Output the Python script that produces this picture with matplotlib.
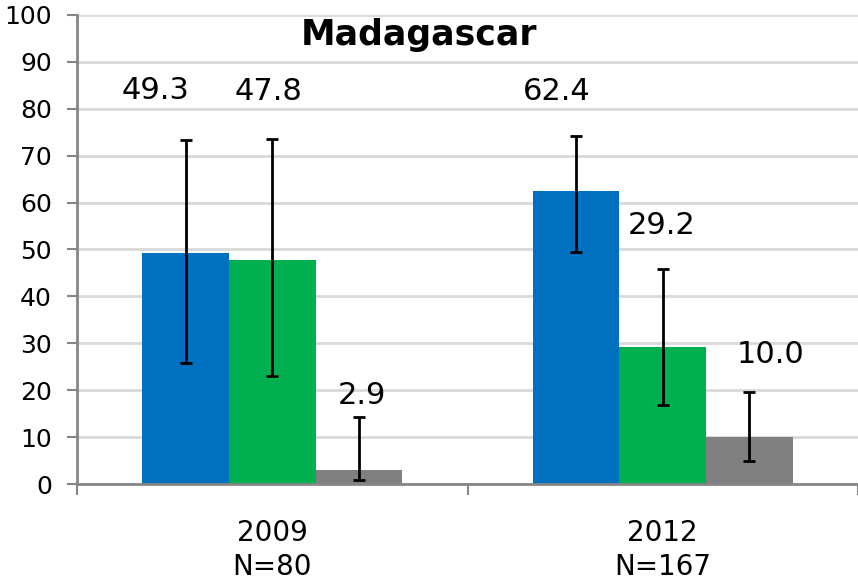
import matplotlib
matplotlib.use("Agg")
import matplotlib.pyplot as plt
import numpy as np

# data
groups = ["2009\nN=80", "2012\nN=167"]
blue_vals = [49.3, 62.4]
green_vals = [47.8, 29.2]
gray_vals = [2.9, 10.0]
blue_lo = [25.7, 49.4]
blue_hi = [73.4, 74.1]
green_lo = [23.1, 16.9]
green_hi = [73.6, 45.8]
gray_lo = [0.8, 4.9]
gray_hi = [14.2, 19.7]

plt.rcParams["font.family"] = "DejaVu Sans"

fig = plt.figure(figsize=(8.58, 5.85), dpi=100)
ax = fig.add_axes([77 / 858, 1 - 484 / 585, 1 - 77 / 858, (484 - 15) / 585])

x = np.arange(len(groups))
w = 0.222
series = [
    (blue_vals, blue_lo, blue_hi, "#0070C0"),
    (green_vals, green_lo, green_hi, "#00B050"),
    (gray_vals, gray_lo, gray_hi, "#808080"),
]
# label offsets (points) from the top of each error bar, as placed in the original
offsets = [
    [(-22, 29), (-14, 26)],
    [(-3, 28), (-1, 25)],
    [(2, 10), (15, 20.5)],
]

for i, (vals, lo, hi, col) in enumerate(series):
    xs = x + (i - 1) * w
    vals = np.array(vals)
    err = [vals - np.array(lo), np.array(hi) - vals]
    ax.bar(xs, vals, width=w, color=col, zorder=2)
    ax.errorbar(xs, vals, yerr=err, fmt="none", ecolor="black", elinewidth=2,
                capsize=4.5, capthick=2, zorder=3)
    for j, v in enumerate(vals):
        ax.annotate(f"{v:.1f}", (xs[j], hi[j]), xytext=offsets[i][j],
                    textcoords="offset points", ha="center", va="baseline",
                    fontsize=22)

ax.set_ylim(0, 100)
ax.set_xlim(-0.5, 1.5)
ax.set_yticks(np.arange(0, 101, 10))
ax.yaxis.grid(True, color="#D9D9D9", linewidth=2, zorder=0)
ax.set_axisbelow(True)
ax.tick_params(axis="y", labelsize=18, length=7, width=1.5, color="#868686", pad=11)

ax.set_xticks(x)
ax.set_xticklabels(groups, fontsize=20, linespacing=1.3)
ax.set_xticks([-0.5, 0.5, 1.5], minor=True)
ax.tick_params(axis="x", which="major", length=0, pad=25)
ax.tick_params(axis="x", which="minor", length=8, width=1.5, color="#868686")

for s in ["top", "right"]:
    ax.spines[s].set_visible(False)
for s in ["left", "bottom"]:
    ax.spines[s].set_color("#868686")
    ax.spines[s].set_linewidth(2)

fig.text(419 / 858, 1 - 45 / 585, "Madagascar", fontweight="bold",
         fontsize=25, ha="center", va="baseline")

fig.savefig("out.png", dpi=100)
